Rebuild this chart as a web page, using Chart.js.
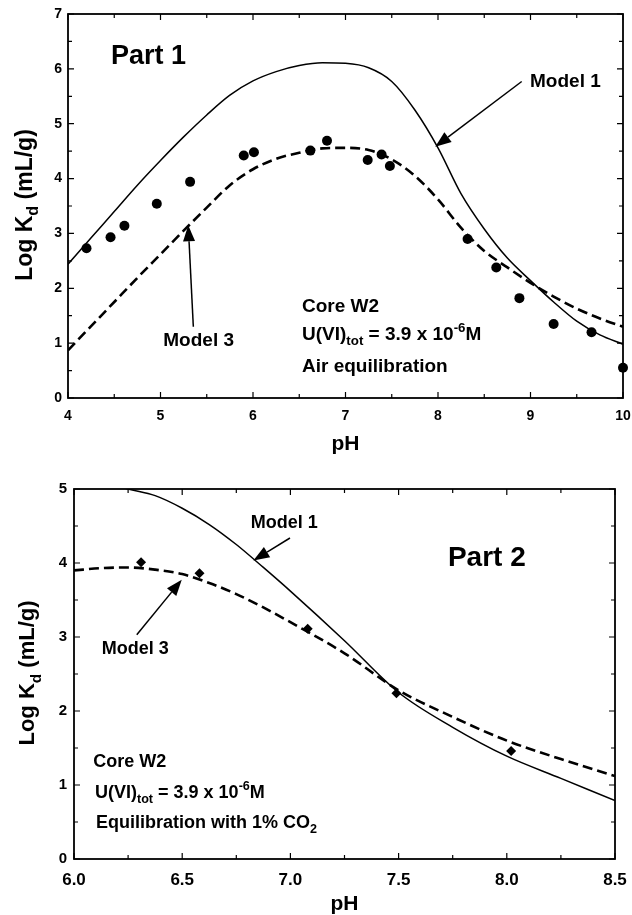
<!DOCTYPE html>
<html>
<head>
<meta charset="utf-8">
<title>Log Kd vs pH</title>
<script src="https://cdn.jsdelivr.net/npm/chart.js@4.4.1/dist/chart.umd.min.js"></script>
<style>
	html, body { margin: 0; padding: 0; background: #fff; }
	#part1 { position: absolute; left: 0; top: 0; }
	#part2 { position: absolute; left: 0; top: 455px; }
</style>
</head>
<body>
<canvas id="part1" width="632" height="455"></canvas>
<canvas id="part2" width="632" height="460"></canvas>
<script>
	// Part 1 : air equilibration
	const p1ObsPh = [4.2, 4.46, 4.61, 4.96, 5.32, 5.9, 6.01, 6.62, 6.8, 7.24, 7.39, 7.48, 8.32, 8.63, 8.88, 9.25, 9.66, 10.0];
	const p1ObsKd = [2.73, 2.93, 3.14, 3.54, 3.94, 4.42, 4.48, 4.51, 4.69, 4.34, 4.44, 4.23, 2.90, 2.38, 1.82, 1.35, 1.20, 0.55];
	const p1CurvePh = [4.0, 4.25, 4.5, 4.75, 5.0, 5.25, 5.5, 5.75, 6.0, 6.25, 6.5, 6.75, 7.0, 7.25, 7.5, 7.75, 8.0, 8.25, 8.5, 8.75, 9.0, 9.25, 9.5, 9.75, 10.0];
	const p1Model1 = [2.44, 2.92, 3.40, 3.88, 4.33, 4.76, 5.16, 5.52, 5.78, 5.95, 6.06, 6.11, 6.10, 6.02, 5.77, 5.25, 4.56, 3.72, 3.08, 2.55, 2.14, 1.75, 1.40, 1.15, 0.98];
	const p1Model3 = [0.87, 1.31, 1.75, 2.19, 2.62, 3.05, 3.47, 3.88, 4.17, 4.36, 4.47, 4.55, 4.56, 4.52, 4.35, 4.05, 3.62, 3.10, 2.68, 2.38, 2.10, 1.85, 1.63, 1.45, 1.30];
	const p1XTicks = [4, 5, 6, 7, 8, 9, 10];
	const p1YTicks = [0, 1, 2, 3, 4, 5, 6, 7];

	// Part 2 : 1% CO2
	const p2ObsPh = [6.31, 6.58, 7.08, 7.49, 8.02];
	const p2ObsKd = [4.01, 3.86, 3.11, 2.24, 1.46];
	const p2CurvePh = [6.0, 6.125, 6.25, 6.375, 6.5, 6.625, 6.75, 6.875, 7.0, 7.25, 7.5, 7.75, 8.0, 8.25, 8.5];
	const p2Model1 = [5.20, 5.10, 5.00, 4.91, 4.74, 4.52, 4.25, 3.94, 3.62, 2.95, 2.25, 1.78, 1.39, 1.09, 0.79];
	const p2Model3 = [3.90, 3.93, 3.94, 3.91, 3.85, 3.73, 3.58, 3.40, 3.20, 2.78, 2.28, 1.92, 1.60, 1.35, 1.12];
	const p2XTicks = [6.0, 6.5, 7.0, 7.5, 8.0, 8.5];
	const p2YTicks = [0, 1, 2, 3, 4, 5];

	const FONT = '"Liberation Sans", Arial, Helvetica, sans-serif';

	function xy(xs, ys) {
		return xs.map(function (x, i) { return { x: x, y: ys[i] }; });
	}

	function richWidth(ctx, parts, size) {
		let w = 0;
		parts.forEach(function (p) {
			ctx.font = 'bold ' + (p[1] ? size * 0.7 : size) + 'px ' + FONT;
			w += ctx.measureText(p[0]).width;
		});
		return w;
	}

	function drawRich(ctx, parts, x, y, size) {
		let cx = x;
		parts.forEach(function (p) {
			const s = p[1] ? size * 0.7 : size;
			let dy = 0;
			if (p[1] === 'sub') dy = size * 0.28;
			if (p[1] === 'sup') dy = -size * 0.42;
			ctx.font = 'bold ' + s + 'px ' + FONT;
			ctx.fillText(p[0], cx, y + dy);
			cx += ctx.measureText(p[0]).width;
		});
	}

	function drawArrow(ctx, x1, y1, x2, y2) {
		const a = Math.atan2(y2 - y1, x2 - x1);
		const hl = 16, hw = 6;
		const bx = x2 - hl * Math.cos(a), by = y2 - hl * Math.sin(a);
		ctx.beginPath();
		ctx.moveTo(x1, y1);
		ctx.lineTo(bx, by);
		ctx.stroke();
		ctx.beginPath();
		ctx.moveTo(x2, y2);
		ctx.lineTo(bx + hw * Math.sin(a), by - hw * Math.cos(a));
		ctx.lineTo(bx - hw * Math.sin(a), by + hw * Math.cos(a));
		ctx.closePath();
		ctx.fill();
	}

	// box round the plot, inward ticks, y title with subscript, notes and arrows
	const decorPlugin = {
		id: 'decor',
		afterDraw: function (chart, args, o) {
			const ctx = chart.ctx;
			const a = chart.chartArea;
			const xs = chart.scales.x, ys = chart.scales.y;
			ctx.save();
			ctx.strokeStyle = '#000';
			ctx.fillStyle = '#000';

			ctx.beginPath();
			for (let v = xs.min; v <= xs.max + 1e-9; v += o.xMinor) {
				const px = xs.getPixelForValue(v);
				const r = v / o.xMajor;
				const len = Math.abs(r - Math.round(r)) < 1e-6 ? 6 : 4;
				ctx.moveTo(px, a.bottom); ctx.lineTo(px, a.bottom - len);
				ctx.moveTo(px, a.top); ctx.lineTo(px, a.top + len);
			}
			for (let v = ys.min; v <= ys.max + 1e-9; v += o.yMinor) {
				const py = ys.getPixelForValue(v);
				const r = v / o.yMajor;
				const len = Math.abs(r - Math.round(r)) < 1e-6 ? 6 : 4;
				ctx.moveTo(a.left, py); ctx.lineTo(a.left + len, py);
				ctx.moveTo(a.right, py); ctx.lineTo(a.right - len, py);
			}
			ctx.lineWidth = 1.2;
			ctx.stroke();
			ctx.lineWidth = 1.8;
			ctx.strokeRect(a.left, a.top, a.right - a.left, a.bottom - a.top);

			// y title
			const t = o.yTitle;
			const tParts = [['Log K'], ['d', 'sub'], [' (mL/g)']];
			ctx.save();
			ctx.translate(t.cx, t.cy);
			ctx.rotate(-Math.PI / 2);
			ctx.textBaseline = 'alphabetic';
			drawRich(ctx, tParts, -richWidth(ctx, tParts, t.size) / 2, t.size * 0.36, t.size);
			ctx.restore();

			ctx.textBaseline = 'alphabetic';
			o.notes.forEach(function (n) {
				drawRich(ctx, n.parts, xs.getPixelForValue(n.x), ys.getPixelForValue(n.y), n.size);
			});
			ctx.lineWidth = 1.5;
			o.arrows.forEach(function (ar) {
				drawArrow(ctx,
					xs.getPixelForValue(ar.from[0]), ys.getPixelForValue(ar.from[1]),
					xs.getPixelForValue(ar.to[0]), ys.getPixelForValue(ar.to[1]));
			});
			ctx.restore();
		}
	};

	function noPad(s) {
		s.paddingLeft = 0;
		s.paddingRight = 0;
		s.paddingTop = 0;
		s.paddingBottom = 0;
	}

	function makeChart(id, cfg) {
		return new Chart(document.getElementById(id), {
			type: 'scatter',
			data: {
				datasets: [
					{
						data: xy(cfg.obsPh, cfg.obsKd),
						pointStyle: cfg.marker,
						pointRadius: cfg.markerSize,
						backgroundColor: '#000',
						borderWidth: 0,
						clip: false
					},
					{
						data: xy(cfg.curvePh, cfg.model1),
						showLine: true,
						pointRadius: 0,
						borderColor: '#000',
						borderWidth: 1.5,
						cubicInterpolationMode: 'monotone'
					},
					{
						data: xy(cfg.curvePh, cfg.model3),
						showLine: true,
						pointRadius: 0,
						borderColor: '#000',
						borderWidth: 2.6,
						borderDash: [10, 5],
						cubicInterpolationMode: 'monotone'
					}
				]
			},
			options: {
				responsive: false,
				animation: false,
				devicePixelRatio: 1,
				layout: { padding: cfg.padding },
				plugins: {
					legend: { display: false },
					tooltip: { enabled: false },
					decor: cfg.decor
				},
				scales: {
					x: {
						type: 'linear',
						min: cfg.xTicks[0],
						max: cfg.xTicks[cfg.xTicks.length - 1],
						afterFit: function (s) { s.height = cfg.xHeight; noPad(s); },
						afterBuildTicks: function (s) { s.ticks = cfg.xTicks.map(function (v) { return { value: v }; }); },
						grid: { display: false, drawTicks: false },
						border: { display: false },
						ticks: {
							color: '#000',
							padding: cfg.xPad,
							maxRotation: 0,
							font: { family: FONT, size: cfg.xFont, weight: 'bold' },
							callback: function (v) { return v.toFixed(cfg.xDigits); }
						},
						title: {
							display: true,
							text: 'pH',
							color: '#000',
							padding: 0,
							font: { family: FONT, size: 21, weight: 'bold', lineHeight: 1 }
						}
					},
					y: {
						min: cfg.yTicks[0],
						max: cfg.yTicks[cfg.yTicks.length - 1],
						afterFit: function (s) { s.width = cfg.yWidth; noPad(s); },
						afterBuildTicks: function (s) { s.ticks = cfg.yTicks.map(function (v) { return { value: v }; }); },
						grid: { display: false, drawTicks: false },
						border: { display: false },
						ticks: {
							color: '#000',
							padding: cfg.yPad,
							font: { family: FONT, size: cfg.yFont, weight: 'bold' }
						}
					}
				}
			},
			plugins: [decorPlugin]
		});
	}

	document.addEventListener('DOMContentLoaded', function () {

		'use strict';

		makeChart('part1', {
			obsPh: p1ObsPh, obsKd: p1ObsKd, curvePh: p1CurvePh, model1: p1Model1, model3: p1Model3,
			xTicks: p1XTicks, yTicks: p1YTicks, xDigits: 0,
			marker: 'circle', markerSize: 5,
			padding: { left: 0, top: 14, right: 9, bottom: 0 },
			xHeight: 57, yWidth: 68, xPad: 10, yPad: 6, xFont: 14, yFont: 14,
			decor: {
				xMajor: 1, xMinor: 0.5, yMajor: 1, yMinor: 0.5,
				yTitle: { cx: 23.5, cy: 205, size: 23 },
				notes: [
					{ x: 4.465, y: 6.09, size: 27, parts: [['Part 1']] },
					{ x: 8.995, y: 5.67, size: 19, parts: [['Model 1']] },
					{ x: 5.03, y: 0.95, size: 19, parts: [['Model 3']] },
					{ x: 6.53, y: 1.57, size: 19, parts: [['Core W2']] },
					{ x: 6.53, y: 1.057, size: 19, parts: [['U(VI)'], ['tot', 'sub'], [' = 3.9 x 10'], ['-6', 'sup'], ['M']] },
					{ x: 6.53, y: 0.48, size: 19, parts: [['Air equilibration']] }
				],
				arrows: [
					{ from: [8.905, 5.77], to: [7.97, 4.58] },
					{ from: [5.355, 1.30], to: [5.30, 3.15] }
				]
			}
		});

		makeChart('part2', {
			obsPh: p2ObsPh, obsKd: p2ObsKd, curvePh: p2CurvePh, model1: p2Model1, model3: p2Model3,
			xTicks: p2XTicks, yTicks: p2YTicks, xDigits: 1,
			marker: 'rectRot', markerSize: 5,
			padding: { left: 0, top: 34, right: 17, bottom: 0 },
			xHeight: 56, yWidth: 74, xPad: 11, yPad: 7, xFont: 17, yFont: 15,
			decor: {
				xMajor: 0.5, xMinor: 0.25, yMajor: 1, yMinor: 0.5,
				yTitle: { cx: 26.5, cy: 218, size: 22 },
				notes: [
					{ x: 7.728, y: 3.954, size: 28, parts: [['Part 2']] },
					{ x: 6.817, y: 4.477, size: 18, parts: [['Model 1']] },
					{ x: 6.128, y: 2.774, size: 18, parts: [['Model 3']] },
					{ x: 6.089, y: 1.243, size: 18, parts: [['Core W2']] },
					{ x: 6.097, y: 0.828, size: 18, parts: [['U(VI)'], ['tot', 'sub'], [' = 3.9 x 10'], ['-6', 'sup'], ['M']] },
					{ x: 6.102, y: 0.423, size: 18, parts: [['Equilibration with 1% CO'], ['2', 'sub']] }
				],
				arrows: [
					{ from: [6.998, 4.338], to: [6.829, 4.035] },
					{ from: [6.29, 3.031], to: [6.498, 3.774] }
				]
			}
		});

	}); // DOMContentLoaded
</script>
</body>
</html>
